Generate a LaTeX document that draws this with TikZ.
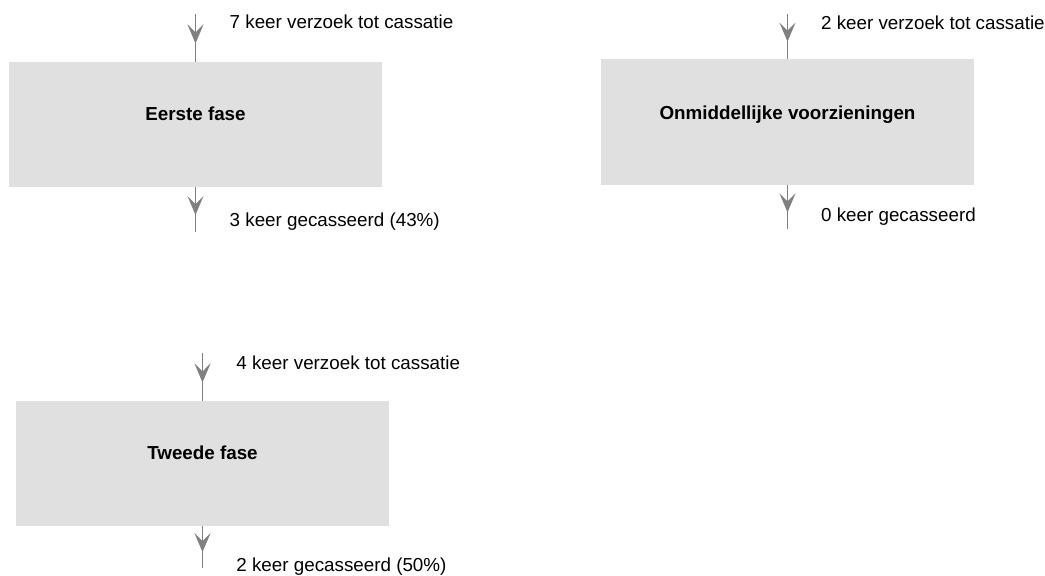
\documentclass[tikz,border=0pt]{standalone}
\usepackage{fontspec}
\setmainfont{Liberation Sans}
\usetikzlibrary{arrows.meta,decorations.markings}

\begin{document}
\begin{tikzpicture}[x=0.5pt, y=-0.5pt,
    every node/.style={inner sep=0pt, font=\fontsize{9.4pt}{11pt}\selectfont},
    fasebox/.style={rectangle, fill=black!12, minimum width=186.5pt, minimum height=62.5pt},
    titel/.style={anchor=base, font=\fontsize{9.4pt}{11pt}\selectfont\bfseries},
    telling/.style={anchor=base west},
    flow/.style={gray, line width=0.75pt, postaction={decorate},
      decoration={markings, mark=at position 0.62 with {\arrow{Stealth[length=9.5pt, width=8pt, inset=4pt]}}}}]
    \useasboundingbox (0,0) rectangle (1045,576);

    % Eerste fase
    \node[fasebox] (fase1) at (195.5,124.5) {};
    \node[titel] (fase1titel) at ([yshift=1.9pt]fase1.center) {Eerste fase};
    \coordinate (in1) at (195.5,14);
    \coordinate (uit1) at (195.5,232);
    \draw[flow] (in1) -- (fase1);
    \draw[flow] (fase1) -- (uit1);
    \node[telling] (verzoek1) at (229.3,28.3) {7 keer verzoek tot cassatie};
    \node[telling] (cass1) at (229.3,226.7) {3 keer gecasseerd (43\%)};

    % Onmiddellijke voorzieningen
    \node[fasebox, minimum height=63pt] (voorz) at (787.5,122) {};
    \node[titel] (voorztitel) at ([yshift=1.4pt]voorz.center) {Onmiddellijke voorzieningen};
    \coordinate (in2) at (787.5,14);
    \coordinate (uit2) at (787.5,229);
    \draw[flow] (in2) -- (voorz);
    \draw[flow] (voorz) -- (uit2);
    \node[telling] (verzoek2) at (820.7,29.3) {2 keer verzoek tot cassatie};
    \node[telling] (cass2) at (820.7,221.7) {0 keer gecasseerd};

    % Tweede fase
    \node[fasebox] (fase2) at (202.5,463.5) {};
    \node[titel] (fase2titel) at ([yshift=1.75pt]fase2.center) {Tweede fase};
    \coordinate (in3) at (202.5,353);
    \coordinate (uit3) at (202.5,568);
    \draw[flow] (in3) -- (fase2);
    \draw[flow] (fase2) -- (uit3);
    \node[telling] (verzoek3) at (236,369.3) {4 keer verzoek tot cassatie};
    \node[telling] (cass3) at (236,571.7) {2 keer gecasseerd (50\%)};
\end{tikzpicture}
\end{document}
